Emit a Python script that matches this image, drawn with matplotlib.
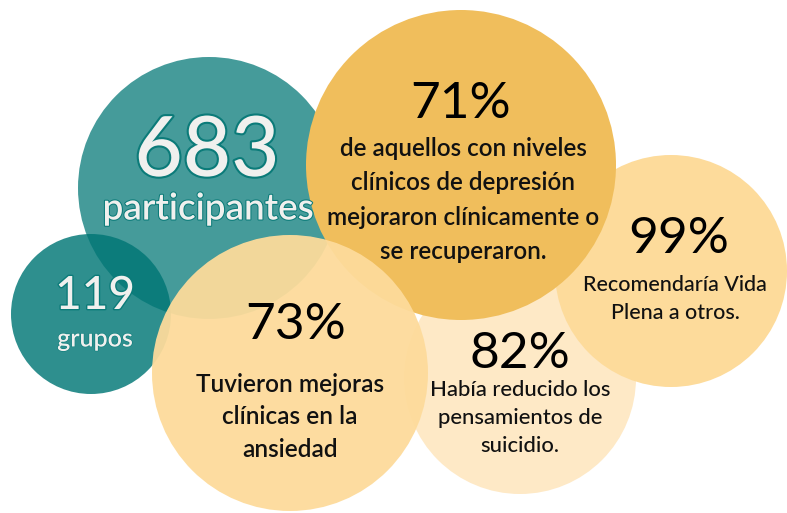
import matplotlib
matplotlib.use("Agg")
import matplotlib.pyplot as plt
from matplotlib.patches import Circle
import matplotlib.patheffects as pe

# ---- data ----
stat_values = ["683", "119", "71%", "99%", "82%", "73%"]
stat_labels = [
    "participantes",
    "grupos",
    "de aquellos con niveles\nclínicos de depresión\nmejoraron clínicamente o\nse recuperaron.",
    "Recomendaría Vida\nPlena a otros.",
    "Había reducido los\npensamientos de\nsuicidio.",
    "Tuvieron mejoras\nclínicas en la\nansiedad",
]

# ---- layout (pixel coordinates, y down) ----
# drawing order: 82%, 99%, 683, 119, 71%, 73%
order = [4, 3, 0, 1, 2, 5]
bub_x = [209, 91, 461, 671, 520, 290]
bub_y = [188, 314, 165, 271, 378, 373]
bub_r = [131, 80, 155, 116, 116, 138]
bub_color = ["#007675", "#007675", "#f0be5c", "#fddb9b", "#fee9c6", "#fddb9b"]
bub_alpha = [0.73, 0.82, 1.0, 1.0, 1.0, 0.95]

num_y = [153, 296, 104, 239, 354, 325]
num_x = [207, 95, 461, 679, 520, 296]
num_size = [60, 33, 37, 37, 37, 37]
lab_x = [208, 95, 463, 675, 520, 290]
lab_y = [209, 339, 200, 299, 418, 417]
lab_size = [26.5, 18, 17.5, 15.5, 15.8, 17.6]
lab_spacing = [1.0, 1.0, 1.58, 1.48, 1.48, 1.5]

W, H = 787, 513
fig = plt.figure(figsize=(W / 100, H / 100), dpi=100)
ax = fig.add_axes([0, 0, 1, 1])
ax.set_xlim(0, W)
ax.set_ylim(H, 0)
ax.set_aspect("equal")
ax.axis("off")

for i in order:
    ax.add_patch(Circle((bub_x[i], bub_y[i]), bub_r[i], facecolor=bub_color[i],
                        alpha=bub_alpha[i], edgecolor="none", zorder=1 + order.index(i)))

font = "Lato"
light = "#f0f0ee"
outline = "#0b7b79"

for i in range(len(stat_values)):
    teal = i < 2
    if teal:
        ax.text(num_x[i], num_y[i], stat_values[i], ha="center", va="center",
                fontsize=num_size[i], family=font, color=light, fontweight="medium",
                zorder=20,
                path_effects=[pe.withStroke(linewidth=3 if i == 0 else 2, foreground=outline)])
        ax.text(lab_x[i], lab_y[i], stat_labels[i], ha="center", va="center",
                fontsize=lab_size[i], family=font, color=light, fontweight="semibold",
                zorder=20,
                path_effects=[pe.withStroke(linewidth=1.5 if i == 0 else 0.8, foreground=outline)])
    else:
        ax.text(num_x[i], num_y[i], stat_values[i], ha="center", va="center",
                fontsize=num_size[i], family=font, color="black", fontweight="normal",
                zorder=20)
        ax.text(lab_x[i], lab_y[i], stat_labels[i], ha="center", va="center",
                fontsize=lab_size[i], family=font, color="#111111",
                fontweight="semibold" if i in (2, 5) else "medium",
                linespacing=lab_spacing[i], zorder=20)

fig.savefig("out.png", dpi=100, facecolor="white")
